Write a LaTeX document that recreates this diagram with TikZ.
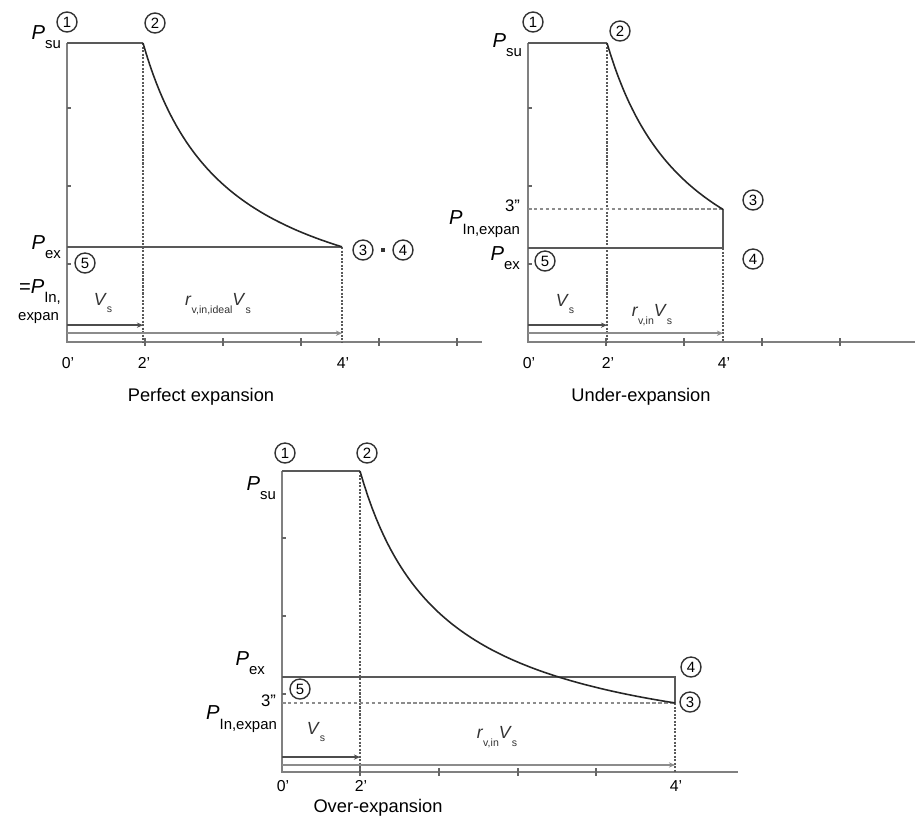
\documentclass[tikz,border=0pt]{standalone}
\usepackage{fontspec}
\setmainfont{Liberation Sans}
\usetikzlibrary{arrows.meta,positioning}
\tikzset{
    axisline/.style={draw=black!50, line width=1.4pt},
    cycleline/.style={draw=black!65, line width=1.3pt},
    expcurve/.style={draw=black!85, line width=0.9pt},
    guide/.style={draw=black!65, line width=0.9pt, dash pattern=on 1.2pt off 0.8pt},
    level/.style={draw=black!45, line width=0.7pt, dash pattern=on 2pt off 1.4pt},
    state/.style={
        circle, draw=black!80, line width=0.8pt, inner sep=0pt,
        minimum size=0.4cm, font=\fontsize{8.5}{8.5}\selectfont
    },
    vollabel/.style={font=\fontsize{10}{11}\selectfont, text=black!80},
    plabel/.style={anchor=east, inner sep=1pt, font=\fontsize{11.5}{12}\selectfont},
    ticklabel/.style={font=\fontsize{9}{10}\selectfont},
    caption/.style={font=\fontsize{10.4}{12}\selectfont},
    volarrow/.style={draw=black!70, line width=0.8pt, -{Stealth[length=3.5pt,width=3pt]}},
    spanarrow/.style={draw=black!45, line width=1.2pt, -{Stealth[length=3.5pt,width=3pt]}},
    tick/.style={draw=black!60, line width=0.6pt}
}
\newcommand{\plab}[1]{\textit{P}\raisebox{-0.9ex}{\fontsize{8.5}{9}\selectfont #1}}
\newcommand{\lowsub}[2]{\textit{#1}\raisebox{-0.8ex}{\fontsize{6}{7}\selectfont #2}}

\begin{document}
\begin{tikzpicture}[x=0.02cm, y=-0.02cm]
\useasboundingbox (0,0) rectangle (915,823);

%% ---------------- Perfect expansion (top left), origin at (67,342)
\coordinate (pe-o)   at (67,342);
\coordinate (pe-1)   at (67,43);
\coordinate (pe-2)   at (143,43);
\coordinate (pe-2b)  at (143,342);
\coordinate (pe-3)   at (342,247);
\coordinate (pe-4b)  at (342,342);
\coordinate (pe-5)   at (67,247);
\coordinate (pe-end) at (482,342);

\draw[axisline] (pe-1) -- (pe-o) -- (pe-end);
\draw[tick] (145,338) -- (145,346) (223,338) -- (223,346) (301,338) -- (301,346)
            (379,338) -- (379,346) (457,338) -- (457,346);
\draw[tick] (67,108) -- (71,108) (67,186) -- (71,186) (67,264) -- (71,264);
\draw[guide] (pe-2) -- (pe-2b);
\draw[guide] (pe-3) -- (pe-4b);
\draw[cycleline] (pe-1) -- (pe-2);
\draw[cycleline] (pe-5) -- (pe-3);
\draw[expcurve] plot[domain=76:275, samples=60] ({67+\x},{342-299*pow(76/\x,0.89)});

%% volume spans
\draw[volarrow]  ([yshift=9.6pt]pe-o) -- ([yshift=9.6pt]pe-2b);
\draw[spanarrow] ([yshift=5pt]pe-o)   -- ([yshift=5pt]pe-4b);
\node[vollabel] (pe-vs) at (103,303) {\lowsub{V}{s}};
\node[vollabel] (pe-rv) at (218,304) {\lowsub{r}{v,in,ideal}\lowsub{V}{s}};

%% states
\node[state] (pe-s1) at (67,22)   {1};
\node[state] (pe-s2) at (155,23)  {2};
\node[state] (pe-s3) at (363,250) {3};
\node[state] (pe-s4) at (403,250) {4};
\node[state] (pe-s5) at (85,263)  {5};
\node[rectangle, fill=black!80, inner sep=0pt, minimum size=2.5pt] (pe-dot) at (383,250) {};

%% pressure and volume labels
\node[plabel] (pe-psu) at (63,37)  {\plab{su}};
\node[plabel] (pe-pex) at (63,247) {\plab{ex}};
\node[plabel] (pe-pin) at (63,292) {=\plab{In,}};
\node[anchor=east, inner sep=1pt, font=\fontsize{8.5}{9}\selectfont] (pe-exp) at (61,318) {expan};
\node[ticklabel] (pe-v0) at (68,363)  {0'};
\node[ticklabel] (pe-v2) at (144,363) {2'};
\node[ticklabel] (pe-v4) at (343,363) {4'};
\node[caption] (pe-cap) at (201,397) {Perfect expansion};

%% ---------------- Under-expansion (top right), origin at (528,342)
\coordinate (ue-o)   at (528,342);
\coordinate (ue-1)   at (528,43);
\coordinate (ue-2)   at (607,43);
\coordinate (ue-2b)  at (607,342);
\coordinate (ue-3)   at (723,209);
\coordinate (ue-3l)  at (528,209);
\coordinate (ue-4)   at (723,248);
\coordinate (ue-4b)  at (723,342);
\coordinate (ue-5)   at (528,248);
\coordinate (ue-end) at (915,342);

\draw[axisline] (ue-1) -- (ue-o) -- (ue-end);
\draw[tick] (606,338) -- (606,346) (684,338) -- (684,346) (762,338) -- (762,346)
            (840,338) -- (840,346);
\draw[tick] (528,108) -- (532,108) (528,186) -- (532,186) (528,264) -- (532,264);
\draw[guide] (ue-2) -- (ue-2b);
\draw[guide] (ue-4) -- (ue-4b);
\draw[level] (ue-3l) -- (ue-3);
\draw[cycleline] (ue-1) -- (ue-2);
\draw[cycleline] (ue-5) -- (ue-4) -- (ue-3);
\draw[expcurve] plot[domain=79:195, samples=60] ({528+\x},{342-299*pow(79/\x,0.90)});

%% volume spans
\draw[volarrow]  ([yshift=9.6pt]ue-o) -- ([yshift=9.6pt]ue-2b);
\draw[spanarrow] ([yshift=5pt]ue-o)   -- ([yshift=5pt]ue-4b);
\node[vollabel] (ue-vs) at (565,304) {\lowsub{V}{s}};
\node[vollabel] (ue-rv) at (652,315) {\lowsub{r}{v,in}\lowsub{V}{s}};

%% states
\node[state] (ue-s1) at (533,22)  {1};
\node[state] (ue-s2) at (620,31)  {2};
\node[state] (ue-s3) at (753,200) {3};
\node[state] (ue-s4) at (753,259) {4};
\node[state] (ue-s5) at (545,261) {5};

%% pressure and volume labels
\node[plabel] (ue-psu) at (524,45)  {\plab{su}};
\node[plabel, font=\fontsize{9.5}{10}\selectfont] (ue-p3) at (522,206) {3''};
\node[plabel] (ue-pin) at (522,224) {\plab{In,expan}};
\node[plabel] (ue-pex) at (522,258) {\plab{ex}};
\node[ticklabel] (ue-v0) at (529,363) {0'};
\node[ticklabel] (ue-v2) at (608,363) {2'};
\node[ticklabel] (ue-v4) at (724,363) {4'};
\node[caption] (ue-cap) at (641,397) {Under-expansion};

%% ---------------- Over-expansion (bottom), origin at (282,772)
\coordinate (oe-o)   at (282,772);
\coordinate (oe-1)   at (282,471);
\coordinate (oe-2)   at (360,471);
\coordinate (oe-2b)  at (360,772);
\coordinate (oe-3)   at (675,703);
\coordinate (oe-3l)  at (282,703);
\coordinate (oe-4)   at (675,677);
\coordinate (oe-4b)  at (675,772);
\coordinate (oe-5)   at (282,677);
\coordinate (oe-end) at (738,772);

\draw[axisline] (oe-1) -- (oe-o) -- (oe-end);
\draw[tick] (360,768) -- (360,776) (439,768) -- (439,776) (518,768) -- (518,776)
            (596,768) -- (596,776);
\draw[tick] (282,538) -- (286,538) (282,616) -- (286,616) (282,694) -- (286,694);
\draw[guide] (oe-2) -- (oe-2b);
\draw[guide] (oe-3) -- (oe-4b);
\draw[level] (oe-3l) -- (oe-3);
\draw[cycleline] (oe-1) -- (oe-2);
\draw[cycleline] (oe-5) -- (oe-4) -- (oe-3);
\draw[expcurve] plot[domain=78:393, samples=80] ({282+\x},{772-301*pow(78/\x,0.911)});

%% volume spans
\draw[volarrow]  ([yshift=8.5pt]oe-o) -- ([yshift=8.5pt]oe-2b);
\draw[spanarrow] ([yshift=4pt]oe-o)   -- ([yshift=4pt]oe-4b);
\node[vollabel] (oe-vs) at (316,732) {\lowsub{V}{s}};
\node[vollabel] (oe-rv) at (497,737) {\lowsub{r}{v,in}\lowsub{V}{s}};

%% states
\node[state] (oe-s1) at (285,453) {1};
\node[state] (oe-s2) at (367,453) {2};
\node[state] (oe-s3) at (690,702) {3};
\node[state] (oe-s4) at (691,667) {4};
\node[state] (oe-s5) at (300,689) {5};

%% pressure and volume labels
\node[plabel] (oe-psu) at (278,488) {\plab{su}};
\node[plabel] (oe-pex) at (267,663) {\plab{ex}};
\node[plabel, font=\fontsize{9.5}{10}\selectfont] (oe-p3) at (278,701) {3''};
\node[plabel] (oe-pin) at (279,719) {\plab{In,expan}};
\node[ticklabel] (oe-v0) at (283,786) {0'};
\node[ticklabel] (oe-v2) at (361,786) {2'};
\node[ticklabel] (oe-v4) at (676,786) {4'};
\node[caption] (oe-cap) at (378,808) {Over-expansion};

\end{tikzpicture}
\end{document}
